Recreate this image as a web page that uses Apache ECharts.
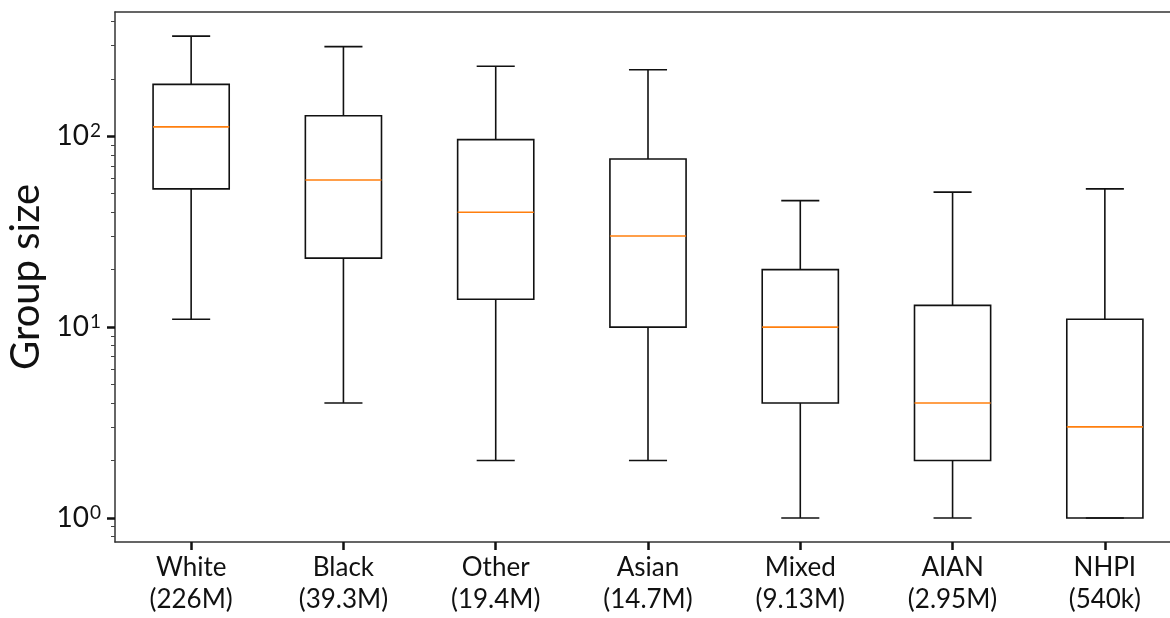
<!DOCTYPE html>
<html>
<head>
<meta charset="utf-8">
<script src="https://cdn.jsdelivr.net/npm/echarts@6/dist/echarts.min.js"></script>
<style>
  html, body { margin: 0; padding: 0; background: #fff; }
  #chart { width: 1170px; height: 618px; }
</style>
</head>
<body>
<div id="chart"></div>
<script>
// Group-size distribution per race category (log scale)
const categories = ['White', 'Black', 'Other', 'Asian', 'Mixed', 'AIAN', 'NHPI'];
const populations = ['(226M)', '(39.3M)', '(19.4M)', '(14.7M)', '(9.13M)', '(2.95M)', '(540k)'];

const whiskerLow  = [11, 4, 2, 2, 1, 1, 1];
const quartile1   = [53, 23, 14, 10, 4, 2, 1];
const medians     = [112, 59, 40, 30, 10, 4, 3];
const quartile3   = [187, 128, 96, 76, 20, 13, 11];
const whiskerHigh = [335, 295, 233, 223, 46, 51, 53];

const majorTicks = [1, 10, 100];
const minorTicks = [0.8, 0.9, 2, 3, 4, 5, 6, 7, 8, 9, 20, 30, 40, 50, 60, 70, 80, 90, 200, 300, 400];

const yMin = 0.748;
const yMax = 448;

const FONT = 'Lato, "Noto Sans", sans-serif';
const AXIS_COLOR = '#333';

const boxData = categories.map((c, i) => [i, whiskerLow[i], quartile1[i], medians[i], quartile3[i], whiskerHigh[i]]);

function renderBox(params, api) {
  const x = api.value(0);
  const low = api.coord([x, api.value(1)]);
  const q1 = api.coord([x, api.value(2)]);
  const med = api.coord([x, api.value(3)]);
  const q3 = api.coord([x, api.value(4)]);
  const high = api.coord([x, api.value(5)]);
  const band = api.size([1, 1], [x, 10])[0];
  const cx = low[0];
  const halfBox = band * 0.25;
  const halfCap = band * 0.125;
  const stroke = { stroke: '#111', lineWidth: 1.6, fill: null };
  const line = (x1, y1, x2, y2, style) => ({
    type: 'line', shape: { x1, y1, x2, y2 }, style
  });
  return {
    type: 'group',
    children: [
      { type: 'rect', shape: { x: cx - halfBox, y: q3[1], width: halfBox * 2, height: q1[1] - q3[1] }, style: stroke },
      line(cx, q3[1], cx, high[1], stroke),
      line(cx, q1[1], cx, low[1], stroke),
      line(cx - halfCap, high[1], cx + halfCap, high[1], stroke),
      line(cx - halfCap, low[1], cx + halfCap, low[1], stroke),
      line(cx - halfBox, med[1], cx + halfBox, med[1], { stroke: '#ff7f0e', lineWidth: 1.6 })
    ]
  };
}

const chart = echarts.init(document.getElementById('chart'));

chart.setOption({
  animation: false,
  backgroundColor: '#fff',
  grid: { left: 115, top: 12, width: 1066, height: 530, outerBoundsMode: 'none' },
  xAxis: [
    {
      type: 'category',
      data: categories.map((c, i) => c + '\n' + populations[i]),
      axisLine: { show: true, lineStyle: { color: AXIS_COLOR, width: 1.5 } },
      axisTick: { show: true, alignWithLabel: true, length: 8, lineStyle: { color: '#111', width: 2.5 } },
      axisLabel: { margin: 10, fontFamily: FONT, fontSize: 26, lineHeight: 32, color: '#111', interval: 0 },
      splitLine: { show: false }
    },
    {
      // top frame line
      type: 'category', position: 'top',
      data: categories,
      axisLine: { show: true, lineStyle: { color: AXIS_COLOR, width: 1.5 } },
      axisTick: { show: false },
      axisLabel: { show: false },
      splitLine: { show: false }
    }
  ],
  yAxis: [
    {
      type: 'log', logBase: 10, min: yMin, max: yMax, position: 'left',
      name: 'Group size', nameLocation: 'middle', nameGap: 68, nameRotate: 90,
      nameTextStyle: { fontFamily: FONT, fontSize: 40, color: '#111' },
      axisLine: { show: true, lineStyle: { color: AXIS_COLOR, width: 1.5 } },
      axisTick: { show: true, length: 8, customValues: majorTicks, lineStyle: { color: '#111', width: 2.5 } },
      axisLabel: {
        margin: 14, customValues: majorTicks, fontFamily: FONT, fontSize: 28, color: '#111',
        formatter: v => '10{sup|' + Math.round(Math.log10(v)) + '}',
        rich: { sup: { fontFamily: FONT, fontSize: 19, color: '#111', verticalAlign: 'top', padding: [0, 0, 10, 1] } }
      },
      splitLine: { show: false }
    },
    {
      // minor ticks on the same left edge
      type: 'log', logBase: 10, min: yMin, max: yMax, position: 'left', offset: 0,
      axisLine: { show: false },
      axisTick: { show: true, length: 4, customValues: minorTicks, lineStyle: { color: '#444', width: 1 } },
      axisLabel: { show: false },
      splitLine: { show: false }
    }
  ],
  series: [{
    type: 'custom',
    name: 'Group size',
    renderItem: renderBox,
    encode: { x: 0, y: [1, 2, 3, 4, 5] },
    xAxisIndex: 0,
    yAxisIndex: 0,
    clip: false,
    data: boxData
  }]
});
</script>
</body>
</html>
